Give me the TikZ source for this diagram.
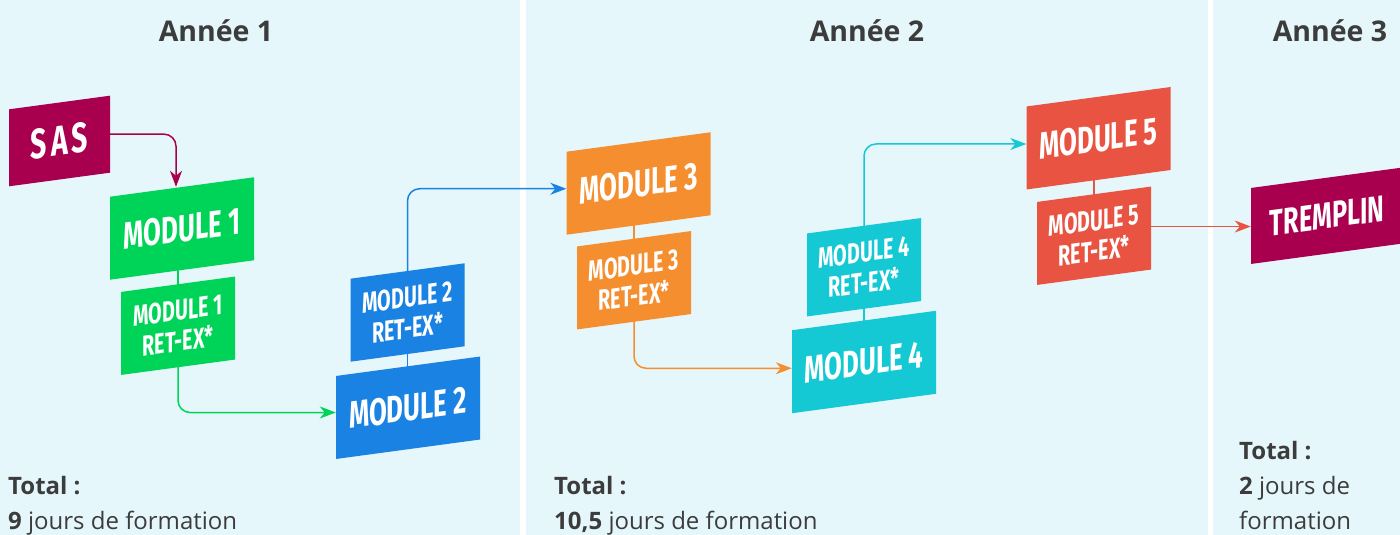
\documentclass[tikz,border=0pt]{standalone}
\usepackage{fontspec}
\setmainfont{Open Sans}
\newfontfamily\modfont{Fira Sans}[FakeStretch=0.68]
\usetikzlibrary{arrows.meta,calc}
\definecolor{bgc}{HTML}{E5F7FB}
\definecolor{txt}{HTML}{3C3C3C}
\definecolor{cmag}{HTML}{A8004E}
\definecolor{cgreen}{HTML}{00D458}
\definecolor{cblue}{HTML}{1A82E2}
\definecolor{corange}{HTML}{F58E2E}
\definecolor{ccyan}{HTML}{14C8D4}
\definecolor{cred}{HTML}{E85342}
\pgfdeclarelayer{bg}
\pgfdeclarelayer{lines}
\pgfsetlayers{bg,lines,main}
\begin{document}
\begin{tikzpicture}[x=1pt,y=-1pt,
  box/.style={fill=#1, text=white, inner sep=0pt, yslant=0.135, align=center},
  bigbox/.style={minimum width=144pt, minimum height=83pt, font=\modfont\bfseries\fontsize{38}{38}\selectfont},
  retbox/.style={minimum width=114pt, minimum height=83pt, font=\modfont\bfseries\fontsize{29}{31}\selectfont},
  conn/.style={line width=1.5pt, rounded corners=12pt},
  arr/.style={conn, -{Stealth[length=16pt,width=12pt,inset=5pt]}},
  head/.style={font=\bfseries\fontsize{28.5}{30}\selectfont, text=txt, anchor=base, inner sep=0pt},
  tot/.style={font=\fontsize{24}{28}\selectfont, text=txt, anchor=base west, inner sep=0pt}
]
\useasboundingbox (0,0) rectangle (1400,535);
\begin{pgfonlayer}{bg}
  \fill[bgc] (0,0) rectangle (1400,535);
  \fill[white] (520,0) rectangle (526,535);
  \fill[white] (1208,0) rectangle (1213,535);
\end{pgfonlayer}

% headings
\node[head] (h1) at (216,42) {Année 1};
\node[head] (h2) at (867,42) {Année 2};
\node[head] (h3) at (1330,42) {Année 3};

% boxes
\node[box=cmag, minimum width=101pt, minimum height=77pt, font=\modfont\bfseries\fontsize{42}{42}\selectfont] (sas) at (59.5,141) {S\kern4pt A\kern4pt S};
\node[box=cgreen, bigbox] (m1) at (182,228.5) {MODULE 1};
\node[box=cgreen, retbox] (m1r) at (178,325.75) {MODULE 1\\RET-EX*};
\node[box=cblue, retbox] (m2r) at (407.5,312.5) {MODULE 2\\RET-EX*};
\node[box=cblue, bigbox] (m2) at (408,407.75) {MODULE 2};
\node[box=corange, bigbox] (m3) at (638.5,183.5) {MODULE 3};
\node[box=corange, retbox] (m3r) at (634,280.25) {MODULE 3\\RET-EX*};
\node[box=ccyan, retbox] (m4r) at (864,267.25) {MODULE 4\\RET-EX*};
\node[box=ccyan, bigbox] (m4) at (864,362) {MODULE 4};
\node[box=cred, bigbox] (m5) at (1098.5,138.25) {MODULE 5};
\node[box=cred, retbox] (m5r) at (1094,235.75) {MODULE 5\\RET-EX*};
\node[box=cmag, minimum width=152pt, minimum height=76pt, font=\modfont\bfseries\fontsize{37}{37}\selectfont] (tremplin) at (1327,215.7) {TREMPLIN};

% connectors
\begin{pgfonlayer}{lines}
  \draw[arr, draw=cmag] (sas.east) -| ([xshift=-6pt]m1.north);
  \draw[conn, draw=cgreen] (m1r.center) -- (m1r.center |- m1.center);
  \draw[arr, draw=cgreen] (m1r.center) |- ([yshift=5pt]m2.west);
  \draw[conn, draw=cblue] (m2r.center) -- (m2r.center |- m2.center);
  \draw[arr, draw=cblue] (m2r.center) |- ([yshift=4.5pt]m3.west);
  \draw[conn, draw=corange] (m3r.center) -- (m3r.center |- m3.center);
  \draw[arr, draw=corange] (m3r.center) |- ([yshift=3.5pt]m4.west);
  \draw[conn, draw=ccyan] (m4r.center) -- (m4r.center |- m4.center);
  \draw[arr, draw=ccyan] (m4r.center) |- ([yshift=4pt]m5.west);
  \draw[conn, draw=cred] (m5r.center) -- (m5r.center |- m5.center);
  \draw[arr, draw=cred] ([yshift=1.5pt]m5r.east) -- ([yshift=1.5pt]m5r.east -| tremplin.west);
\end{pgfonlayer}

% totals
\node[tot] (t1a) at (8,494) {\bfseries Total :};
\node[tot] (t1b) at (8,529) {\textbf{9} jours de formation};
\node[tot] (t2a) at (554,494) {\bfseries Total :};
\node[tot] (t2b) at (554,529) {\textbf{10,5} jours de formation};
\node[tot] (t3a) at (1239,459) {\bfseries Total :};
\node[tot] (t3b) at (1239,494) {\textbf{2} jours de};
\node[tot] (t3c) at (1239,529) {formation};
\end{tikzpicture}
\end{document}
